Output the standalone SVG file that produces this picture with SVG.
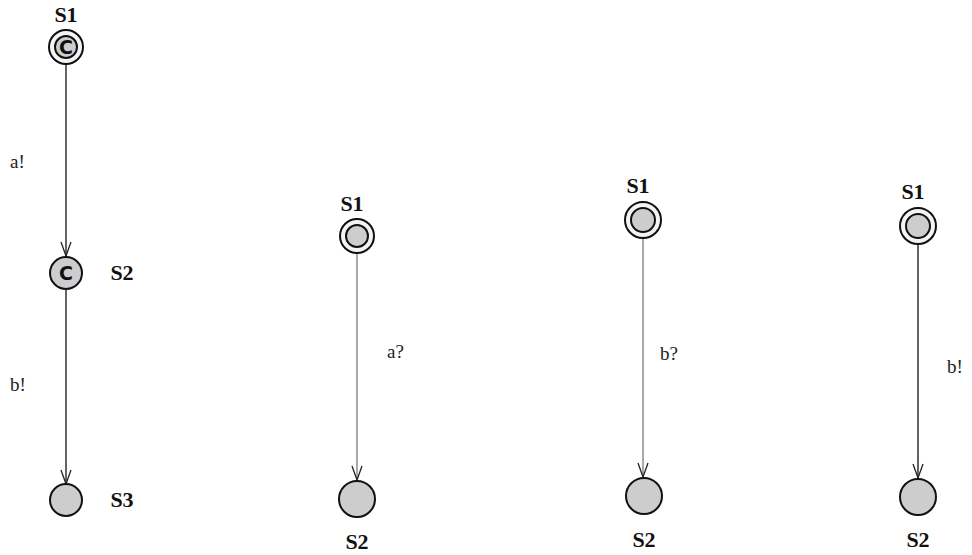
<svg xmlns="http://www.w3.org/2000/svg" width="972" height="555" viewBox="0 0 972 555">
  <style>
    .name { font-family: "Liberation Serif", serif; font-weight: bold; font-size: 22px; fill: #111; }
    .act { font-family: "Liberation Serif", serif; font-size: 19px; fill: #222; }
    .st { fill: #cdcdcd; stroke: #111; stroke-width: 2; }
    .outer { fill: #f4f4f4; }
    .mark { font-family: "DejaVu Sans", sans-serif; font-size: 19px; font-weight: bold; fill: #111; }
    .edge { fill: none; stroke: #222; stroke-width: 1.4; }
    .edge.thin { stroke: #555; stroke-width: 1; }
  </style>
  <defs>
    <marker id="vhead" viewBox="-1 -1 16 12" refX="14" refY="5" markerWidth="16" markerHeight="12" markerUnits="userSpaceOnUse" orient="auto">
      <path d="M0,0 L14,5 L0,10" fill="none" stroke="#222" stroke-width="1.3"/>
    </marker>
  </defs>

  <!-- connectors -->
  <g id="edges">
    <line class="edge" x1="66" y1="64" x2="66" y2="256" marker-end="url(#vhead)"/>
    <line class="edge" x1="66" y1="290" x2="66" y2="484" marker-end="url(#vhead)"/>
    <line class="edge thin" x1="357" y1="253" x2="357" y2="480" marker-end="url(#vhead)"/>
    <line class="edge thin" x1="643" y1="238" x2="643" y2="477" marker-end="url(#vhead)"/>
    <line class="edge" x1="918" y1="244" x2="918" y2="478" marker-end="url(#vhead)"/>
    <text class="act" x="10" y="168">a!</text>
    <text class="act" x="10" y="391">b!</text>
    <text class="act" x="387" y="358">a?</text>
    <text class="act" x="660" y="360">b?</text>
    <text class="act" x="947" y="373">b!</text>
  </g>

  <!-- first automaton -->
  <g id="p1-s1">
    <circle class="st outer" cx="66" cy="47" r="17"/>
    <circle class="st" cx="66" cy="47" r="11"/>
    <text class="mark" x="66" y="54" text-anchor="middle">C</text>
    <text class="name" x="66" y="22" text-anchor="middle">S1</text>
  </g>
  <g id="p1-s2">
    <circle class="st" cx="66" cy="273" r="16"/>
    <text class="mark" x="66" y="280" text-anchor="middle">C</text>
    <text class="name" x="122" y="280" text-anchor="middle">S2</text>
  </g>
  <g id="p1-s3">
    <circle class="st" cx="66" cy="500" r="16"/>
    <text class="name" x="122" y="507" text-anchor="middle">S3</text>
  </g>

  <!-- second automaton -->
  <g id="p2-s1">
    <circle class="st outer" cx="357" cy="236" r="17"/>
    <circle class="st" cx="357" cy="236" r="11"/>
    <text class="name" x="352" y="211" text-anchor="middle">S1</text>
  </g>
  <g id="p2-s2">
    <circle class="st" cx="357" cy="499" r="18"/>
    <text class="name" x="357" y="549" text-anchor="middle">S2</text>
  </g>

  <!-- third automaton -->
  <g id="p3-s1">
    <circle class="st outer" cx="643" cy="220" r="18"/>
    <circle class="st" cx="643" cy="220" r="12"/>
    <text class="name" x="638" y="193" text-anchor="middle">S1</text>
  </g>
  <g id="p3-s2">
    <circle class="st" cx="644" cy="496" r="18"/>
    <text class="name" x="644" y="547" text-anchor="middle">S2</text>
  </g>

  <!-- fourth automaton -->
  <g id="p4-s1">
    <circle class="st outer" cx="918" cy="226" r="18"/>
    <circle class="st" cx="918" cy="226" r="12"/>
    <text class="name" x="913" y="199" text-anchor="middle">S1</text>
  </g>
  <g id="p4-s2">
    <circle class="st" cx="918" cy="497" r="18"/>
    <text class="name" x="918" y="547" text-anchor="middle">S2</text>
  </g>
</svg>
